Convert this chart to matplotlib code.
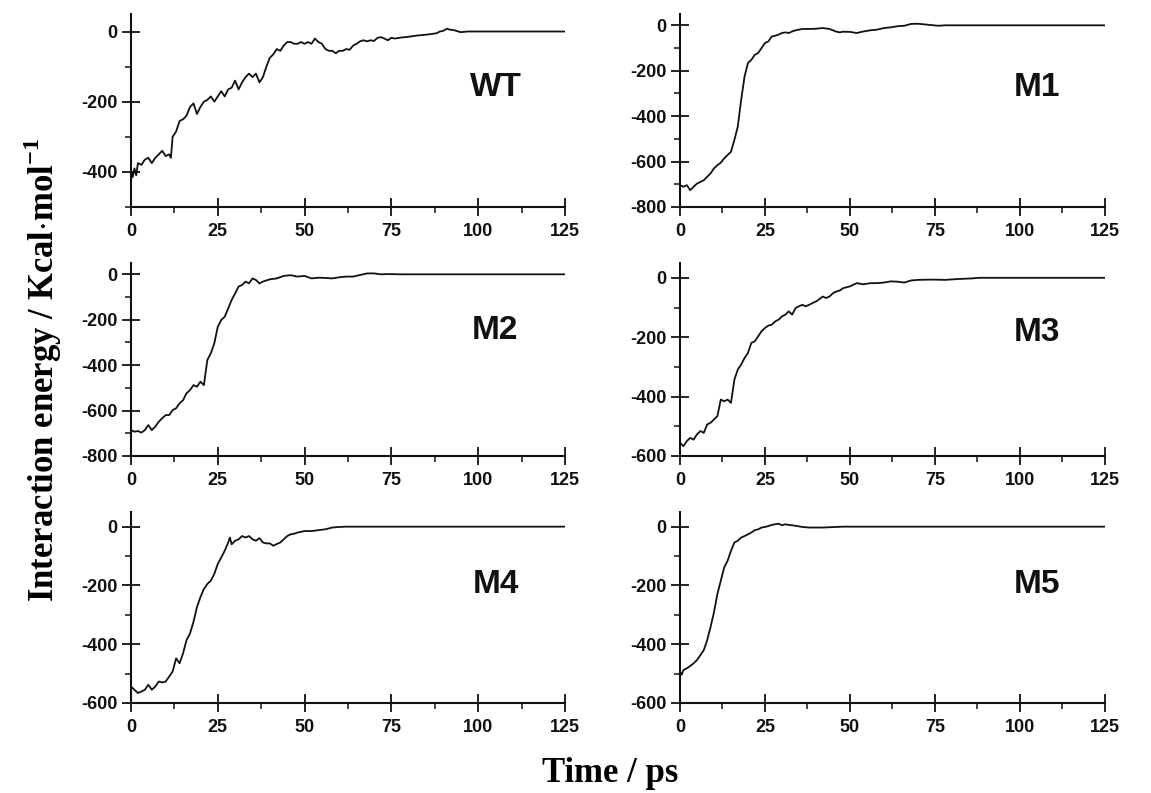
import numpy as np
import matplotlib.pyplot as plt
from matplotlib.ticker import MultipleLocator

plt.rcParams['axes.unicode_minus'] = False
plt.rcParams['mathtext.fontset'] = 'custom'
plt.rcParams['mathtext.rm'] = 'Liberation Serif'
plt.rcParams['mathtext.bf'] = 'Liberation Serif:bold'

# Interaction energy traces (time in ps, energy in kcal/mol)
wt_t = [0, 0.5, 1, 1.5, 2, 3, 4, 5, 6, 7, 8, 9, 10, 11, 11.5, 12, 13, 14, 15, 16,
        17, 18, 19, 20, 21, 22, 23, 24, 25, 26, 27, 28, 29, 30, 31, 32, 33, 34, 35, 36,
        37, 38, 39, 40, 41, 42, 43, 44, 45, 46, 47, 48, 49, 50, 51, 52, 53, 54, 55, 56,
        57, 58, 59, 60, 61, 62, 63, 64, 65, 66, 67, 68, 69, 70, 71, 72, 73, 74, 75, 76,
        78, 80, 82, 84, 86, 88, 89, 90, 91, 92, 93, 95, 97, 125]
wt_e = [-395, -415, -390, -410, -375, -380, -365, -360, -375, -360, -350, -340, -355, -350, -360, -300, -285, -255, -250, -240,
        -215, -205, -235, -215, -200, -195, -185, -200, -185, -170, -185, -165, -160, -140, -165, -145, -130, -120, -130, -120,
        -145, -130, -100, -75, -65, -50, -55, -40, -30, -30, -35, -35, -30, -35, -30, -35, -20, -30, -35, -50,
        -55, -55, -62, -55, -55, -50, -52, -40, -35, -28, -25, -28, -25, -27, -18, -16, -20, -25, -18, -20,
        -17, -15, -12, -10, -8, -5, 0, 2, 8, 5, 4, -2, 0, 0]

m1_t = [0, 1, 2, 3, 4, 5, 6, 7, 8, 9, 10, 11, 12, 13, 14, 15, 16, 17, 18, 19,
        20, 21, 22, 23, 24, 25, 26, 27, 28, 29, 30, 31, 32, 33, 34, 35, 36, 38, 40, 42,
        44, 46, 47, 48, 50, 52, 54, 56, 58, 60, 62, 64, 66, 68, 70, 72, 74, 76, 78, 125]
m1_e = [-704, -711, -704, -726, -711, -697, -690, -682, -667, -652, -630, -616, -605, -586, -571, -557, -505, -446, -328, -225,
        -166, -152, -130, -122, -100, -78, -71, -49, -46, -41, -34, -31, -34, -27, -22, -19, -16, -16, -15, -12,
        -16, -28, -31, -28, -29, -34, -27, -22, -19, -12, -9, -4, -2, 6, 7, 4, 1, -2, 0, 0]

m2_t = [0, 1, 2, 3, 4, 5, 6, 7, 8, 9, 10, 11, 12, 13, 14, 15, 16, 17, 18, 19,
        20, 21, 22, 23, 24, 25, 26, 27, 28, 29, 30, 31, 32, 33, 34, 35, 36, 37, 38, 40,
        42, 44, 46, 48, 50, 52, 54, 56, 58, 60, 62, 64, 66, 68, 70, 72, 74, 78, 125]
m2_e = [-686, -693, -690, -697, -686, -664, -686, -671, -649, -634, -620, -620, -598, -590, -568, -554, -524, -510, -488, -495,
        -473, -488, -377, -348, -304, -231, -201, -187, -150, -113, -84, -54, -47, -32, -40, -18, -25, -40, -32, -22,
        -18, -7, -4, -10, -7, -18, -15, -16, -18, -13, -10, -10, -3, 4, 4, 0, 1, 0, 0]

m3_t = [0, 1, 2, 3, 4, 5, 6, 7, 8, 9, 10, 11, 12, 13, 14, 15, 16, 17, 18, 19,
        20, 21, 22, 23, 24, 25, 26, 27, 28, 29, 30, 31, 32, 33, 34, 35, 36, 37, 38, 39,
        40, 41, 42, 43, 44, 45, 46, 47, 48, 50, 52, 54, 56, 58, 60, 62, 64, 66, 68, 70,
        74, 78, 82, 86, 88, 125]
m3_e = [-555, -567, -550, -539, -545, -527, -516, -522, -494, -488, -477, -466, -410, -416, -410, -421, -343, -309, -292, -270,
        -253, -219, -214, -197, -180, -169, -161, -158, -147, -141, -130, -124, -113, -124, -102, -96, -91, -96, -91, -85,
        -80, -72, -63, -68, -63, -52, -46, -43, -35, -29, -18, -22, -18, -18, -16, -12, -13, -16, -9, -7,
        -6, -7, -4, -2, 0, 0]

m4_t = [0, 1, 2, 3, 4, 5, 6, 7, 8, 9, 10, 11, 12, 13, 14, 15, 16, 17, 18, 19,
        20, 21, 22, 23, 24, 25, 26, 27, 28, 28.5, 29, 30, 31, 32, 33, 34, 35, 36, 37, 38,
        39, 40, 41, 42, 43, 44, 45, 46, 47, 48, 50, 52, 54, 56, 58, 60, 62, 125]
m4_e = [-544, -555, -566, -561, -555, -538, -555, -544, -527, -530, -527, -510, -493, -448, -465, -431, -386, -364, -324, -274,
        -240, -212, -195, -184, -161, -127, -105, -82, -54, -37, -60, -48, -43, -32, -37, -32, -43, -48, -39, -54,
        -57, -57, -65, -59, -54, -43, -32, -26, -24, -20, -15, -15, -12, -9, -3, -1, 0, 0]

m5_t = [0, 0.5, 1, 2, 3, 4, 5, 6, 7, 8, 9, 10, 11, 12, 13, 14, 15, 16, 17, 18,
        19, 20, 21, 22, 23, 24, 25, 26, 27, 28, 29, 30, 31, 32, 34, 36, 38, 42, 46, 48, 125]
m5_e = [-493, -504, -488, -482, -474, -465, -454, -437, -420, -386, -341, -291, -229, -184, -139, -116, -82, -54, -48, -37,
        -32, -26, -20, -12, -9, -3, -1, 2, 6, 8, 10, 5, 8, 6, 3, -1, -3, -3, -1, 0, 0]

names = ['WT', 'M1', 'M2', 'M3', 'M4', 'M5']
times = [wt_t, m1_t, m2_t, m3_t, m4_t, m5_t]
energies = [wt_e, m1_e, m2_e, m3_e, m4_e, m5_e]
ybottoms = [-500, -800, -800, -600, -600, -600]

fig = plt.figure(figsize=(11.51, 7.93), dpi=100)

# panel rectangles in figure fractions
lefts = [0.1138, 0.5908]
widths = [0.377, 0.369]
bottoms = [0.7390, 0.4250, 0.1135]
heights = [0.2434, 0.2434, 0.2409]
label_y = [0.62, 0.62, 0.65, 0.64, 0.62, 0.62]

for i in range(6):
    r, c = i // 2, i % 2
    ax = fig.add_axes([lefts[c], bottoms[r], widths[c], heights[r]])
    ax.plot(times[i], energies[i], color='#111111', lw=1.3)
    ax.set_xlim(0, 125)
    ax.set_ylim(ybottoms[i], 50)
    ax.xaxis.set_major_locator(MultipleLocator(25))
    ax.xaxis.set_minor_locator(MultipleLocator(12.5))
    ax.yaxis.set_major_locator(MultipleLocator(200))
    ax.yaxis.set_minor_locator(MultipleLocator(100))
    ax.spines['top'].set_visible(False)
    ax.spines['right'].set_visible(False)
    for s in ['left', 'bottom']:
        ax.spines[s].set_linewidth(1.5)
        ax.spines[s].set_color('#111111')
    ax.tick_params(which='major', direction='inout', length=13, width=1.3, colors='#111111')
    ax.tick_params(axis='x', which='major', pad=5)
    ax.tick_params(axis='y', which='major', pad=3)
    ax.tick_params(which='minor', direction='out', length=4, width=1.1, colors='#111111')
    for lab in ax.get_xticklabels() + ax.get_yticklabels():
        lab.set_family('Liberation Sans')
        lab.set_fontweight('bold')
        lab.set_fontsize(13)
    ax.text(0.84, label_y[i], names[i], transform=ax.transAxes, ha='center', va='center',
            family='Liberation Sans', fontweight='bold', fontsize=24, color='#111111')

fig.text(0.037, 0.533, r'Interaction energy / Kcal$\cdot$mol$^{\mathbf{-1}}$', rotation=90,
         ha='center', va='center', family='Liberation Serif', fontweight='bold', fontsize=25)
fig.text(0.53, 0.014, 'Time / ps', ha='center', va='baseline',
         family='Liberation Serif', fontweight='bold', fontsize=25)

plt.savefig('out.png', dpi=100)
